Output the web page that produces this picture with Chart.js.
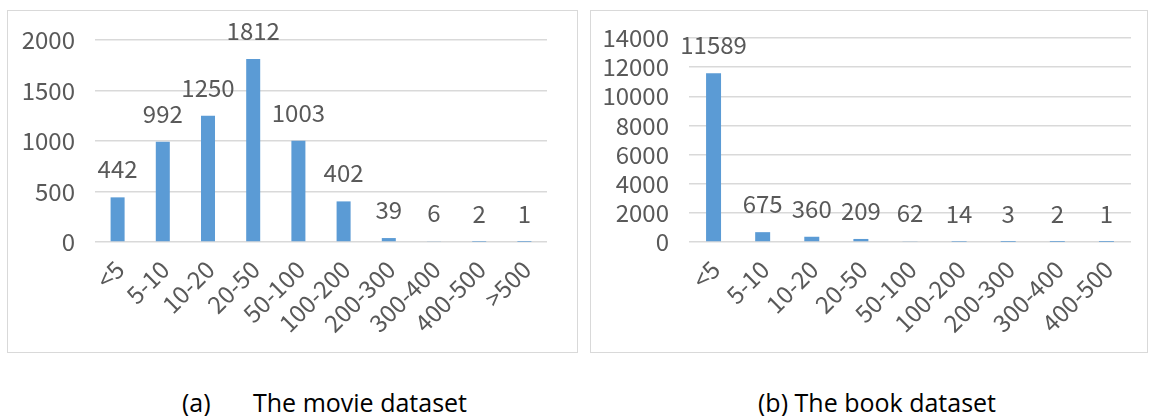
<!DOCTYPE html>
<html>
<head>
<meta charset="utf-8">
<script src="https://cdn.jsdelivr.net/npm/chart.js@4/dist/chart.umd.min.js"></script>
<style>
  body { margin: 0; background: #fff; width: 1150px; height: 416px; position: relative; overflow: hidden; }
  .frame { position: absolute; border: 1.5px solid #d9d9d9; box-sizing: border-box; }
  .frame canvas { position: absolute; left: 0; top: 0; }
  .cap { position: absolute; font-family: "Open Sans", sans-serif; font-size: 25px; color: #000; white-space: pre; top: 385px; }
</style>
</head>
<body>
<div class="frame" style="left:7px; top:10px; width:571px; height:343px;">
  <canvas id="movieChart" width="568" height="340"></canvas>
</div>
<div class="frame" style="left:590px; top:10px; width:558px; height:343px;">
  <canvas id="bookChart" width="556" height="340"></canvas>
</div>
<div class="cap" style="left:182px;">(a)</div>
<div class="cap" style="left:253px;">The movie dataset</div>
<div class="cap" style="left:758px;">(b) The book dataset</div>

<script>
// ── Data ──────────────────────────────────────────────────────
const movieLabels = ['<5', '5-10', '10-20', '20-50', '50-100', '100-200', '200-300', '300-400', '400-500', '>500'];
const movieCounts = [442, 992, 1250, 1812, 1003, 402, 39, 6, 2, 1];
const movieTicks  = [0, 500, 1000, 1500, 2000];

const bookLabels = ['<5', '5-10', '10-20', '20-50', '50-100', '100-200', '200-300', '300-400', '400-500'];
const bookCounts = [11589, 675, 360, 209, 62, 14, 3, 2, 1];
const bookTicks  = [0, 2000, 4000, 6000, 8000, 10000, 12000, 14000];

// ── Style ─────────────────────────────────────────────────────
const barColor  = '#5b9bd5';
const gridColor = '#d9d9d9';
const textColor = '#595959';
const tickFont  = { family: '"Noto Sans CJK SC", "Noto Sans", sans-serif', size: 24 };

// labels above each bar, like Excel's "outside end"
const valueLabels = {
  id: 'valueLabels',
  afterDatasetsDraw(chart) {
    const ctx = chart.ctx;
    const meta = chart.getDatasetMeta(0);
    const values = chart.data.datasets[0].data;
    ctx.save();
    ctx.font = tickFont.size + 'px ' + tickFont.family;
    ctx.fillStyle = textColor;
    ctx.textAlign = 'center';
    ctx.textBaseline = 'alphabetic';
    meta.data.forEach((bar, i) => {
      ctx.fillText(String(values[i]), bar.x, bar.y - 19);
    });
    ctx.restore();
  }
};

function makeChart(id, labels, counts, ticks, opt) {
  return new Chart(document.getElementById(id), {
    type: 'bar',
    data: {
      labels: labels,
      datasets: [{
        data: counts,
        backgroundColor: barColor,
        borderWidth: 0,
        categoryPercentage: 1,
        barPercentage: opt.barPct
      }]
    },
    options: {
      responsive: false,
      animation: false,
      layout: { padding: { left: 0, right: opt.padRight, top: opt.padTop, bottom: 0 } },
      plugins: { legend: { display: false }, tooltip: { enabled: false } },
      scales: {
        x: {
          grid: { display: false, drawTicks: false },
          border: { display: false },
          ticks: {
            autoSkip: false,
            minRotation: 45,
            maxRotation: 45,
            padding: 13,
            labelOffset: 2,
            color: textColor,
            font: tickFont
          },
          afterFit(scale) {
            scale.height = opt.xHeight;
            scale.paddingLeft = 0;
            scale.paddingRight = 0;
          }
        },
        y: {
          min: 0,
          max: ticks[ticks.length - 1],
          afterBuildTicks(scale) { scale.ticks = ticks.map(v => ({ value: v })); },
          grid: { color: gridColor, lineWidth: 1.5, drawTicks: false },
          border: { display: false },
          ticks: {
            autoSkip: false,
            padding: 20,
            color: textColor,
            font: tickFont,
            callback: v => String(v)
          },
          afterFit(scale) {
            scale.width = opt.yWidth;
            scale.paddingTop = 0;
            scale.paddingBottom = 0;
          }
        }
      }
    },
    plugins: [valueLabels]
  });
}

makeChart('movieChart', movieLabels, movieCounts, movieTicks,
  { barPct: 0.31, padRight: 29, padTop: 29, xHeight: 109, yWidth: 87 });
makeChart('bookChart', bookLabels, bookCounts, bookTicks,
  { barPct: 0.305, padRight: 16, padTop: 27, xHeight: 109, yWidth: 98 });
</script>
</body>
</html>
